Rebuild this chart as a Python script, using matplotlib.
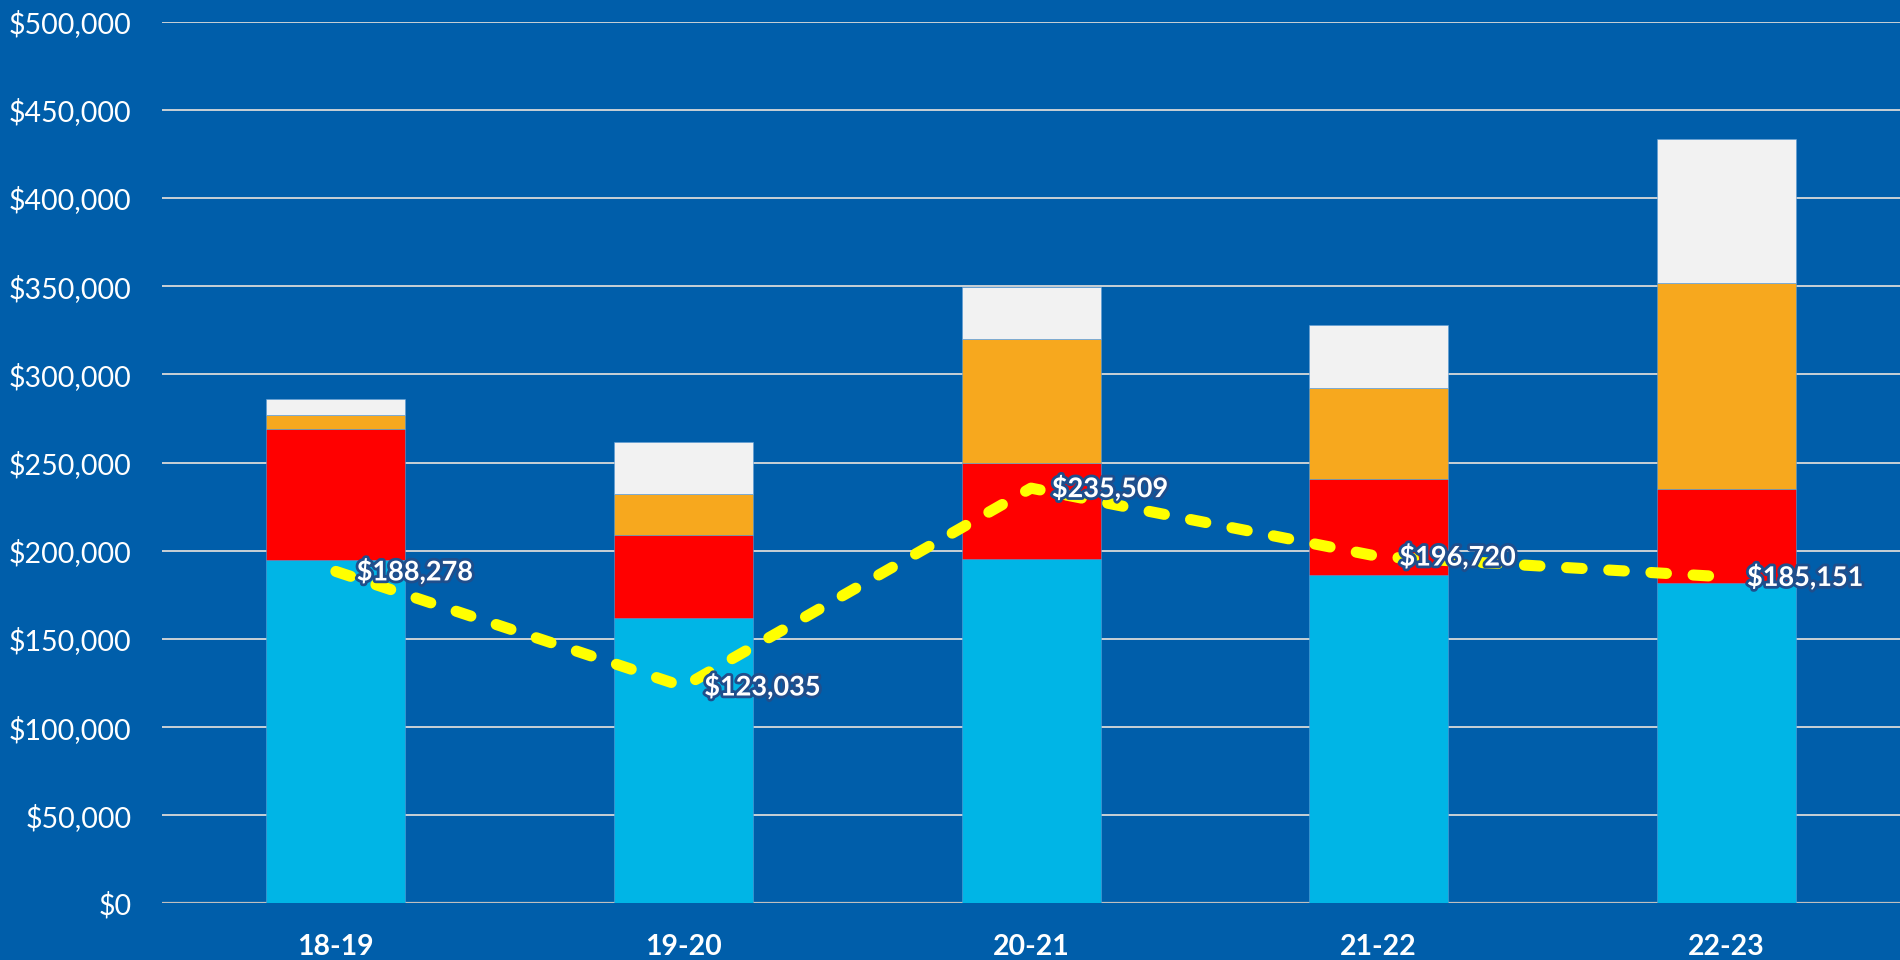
import matplotlib
matplotlib.use("Agg")
import matplotlib.pyplot as plt
import matplotlib.patheffects as pe
from matplotlib.ticker import FuncFormatter, MultipleLocator
import numpy as np

categories = ["18-19", "19-20", "20-21", "21-22", "22-23"]
seg_cyan = [194700, 161700, 195500, 186200, 181900]
seg_red = [74300, 47200, 54400, 54300, 52900]
seg_orange = [7900, 23200, 70100, 51900, 117100]
seg_white = [9100, 29700, 29700, 35400, 81500]
line_values = [188278, 123035, 235509, 196720, 185151]

BG = "#005EAA"
colors = ["#00B5E6", "#FF0000", "#F7A81E", "#F2F2F2"]

plt.rcParams["font.family"] = ["Lato", "DejaVu Sans"]

fig = plt.figure(figsize=(19, 9.6), dpi=100, facecolor=BG)
ax = fig.add_axes([0.0853, 0.0589, 0.9147, 0.9185])
ax.set_facecolor(BG)

x = np.arange(len(categories))
bottom = np.zeros(len(categories))
for seg, c in zip([seg_cyan, seg_red, seg_orange, seg_white], colors):
    ax.bar(x, seg, width=0.40, bottom=bottom, color=c, zorder=2,
           edgecolor="#5B9BD5", linewidth=0.4)
    bottom += np.array(seg)

ax.plot(x, line_values, color="#FFFF00", linewidth=8,
        linestyle=(0, (1.4, 2.4)), dash_capstyle="round", zorder=3)

for xi, v in zip(x, line_values):
    ax.annotate(f"${v:,.0f}", (xi, v), xytext=(15, 0), textcoords="offset points",
                ha="left", va="center", color="white", fontsize=19.5,
                fontweight="bold", zorder=4,
                path_effects=[pe.withStroke(linewidth=4, foreground="#1F4E8C")])

ax.set_xlim(-0.5, 4.5)
ax.set_ylim(0, 500000)
ax.yaxis.set_major_locator(MultipleLocator(50000))
ax.yaxis.set_major_formatter(FuncFormatter(lambda v, p: f"${v:,.0f}"))
ax.grid(axis="y", color="#D9D9D9", linewidth=1.3, zorder=0)
ax.set_axisbelow(True)
for s in ax.spines.values():
    s.set_visible(False)
ax.axhline(0, color="#BFBFBF", linewidth=1.6, zorder=1)

ax.set_xticks(x)
ax.set_xticklabels(categories)
ax.tick_params(axis="x", length=0, pad=22, labelsize=20.5, labelcolor="white")
for lbl in ax.get_xticklabels():
    lbl.set_fontweight("bold")
ax.tick_params(axis="y", length=0, pad=22, labelsize=20.5, labelcolor="white")

fig.savefig("out.png", dpi=100, facecolor=BG)
